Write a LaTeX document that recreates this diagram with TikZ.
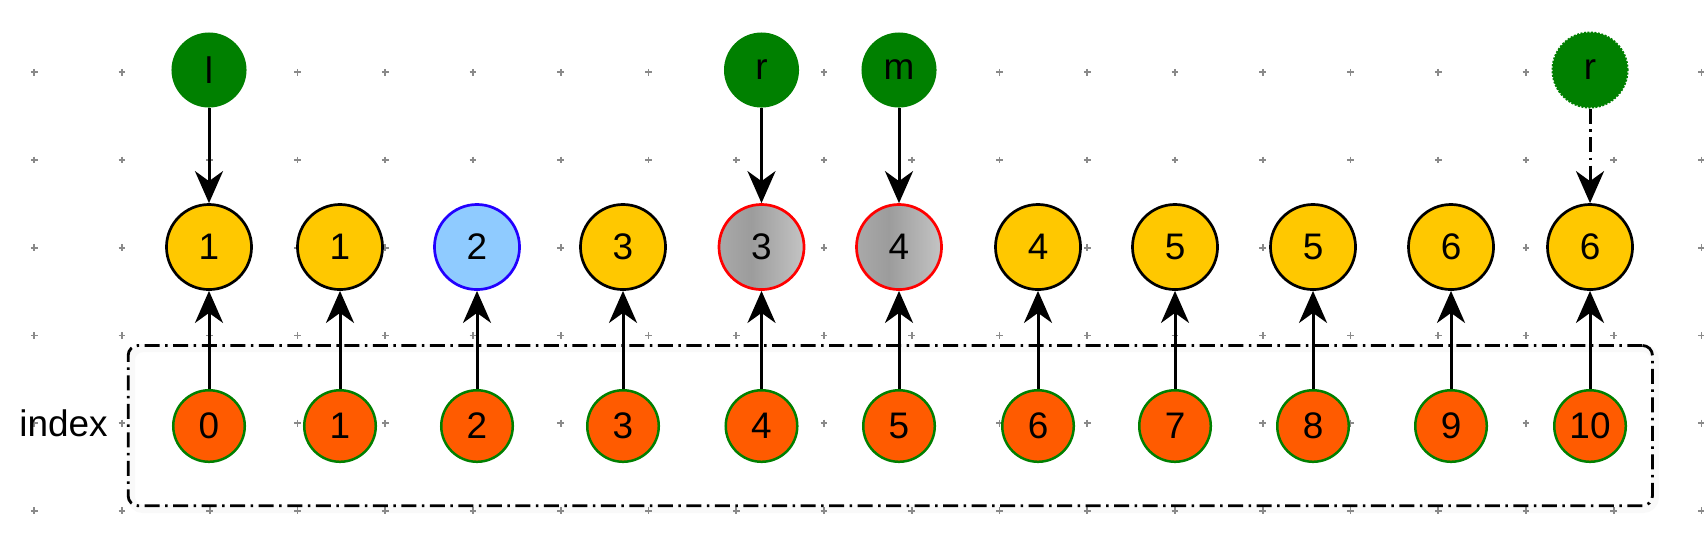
\documentclass[tikz,border=0pt]{standalone}
\usepackage{fontspec}
\setmainfont{Liberation Sans}
\usetikzlibrary{arrows.meta}
\definecolor{ygold}{HTML}{FFC800}
\definecolor{lblue}{HTML}{8FCBFF}
\definecolor{bblue}{HTML}{2200FF}
\definecolor{oorange}{HTML}{FF5B00}
\definecolor{dgreen}{HTML}{008000}
\definecolor{gA}{HTML}{A9A9A9}
\definecolor{gB}{HTML}{9C9C9C}
\definecolor{gC}{HTML}{C4C4C4}
\definecolor{gridgray}{HTML}{8A8A8A}
\definecolor{shadowgray}{HTML}{F6F6F6}
\pgfdeclarehorizontalshading{grayshade}{100bp}{color(0bp)=(gA); color(25bp)=(gA); color(44bp)=(gB); color(75bp)=(gC); color(100bp)=(gC)}
\tikzset{
  lbl/.style={font=\fontsize{10.5pt}{12pt}\selectfont, inner sep=0pt},
  valnode/.style={lbl, circle, minimum size=0.85cm, line width=0.027cm, draw=black, fill=ygold},
  bluenode/.style={valnode, draw=bblue, fill=lblue},
  graynode/.style={valnode, draw=red, shading=grayshade},
  idxnode/.style={lbl, circle, minimum size=0.715cm, line width=0.025cm, draw=dgreen, fill=oorange},
  ptrnode/.style={lbl, circle, minimum size=0.75cm, fill=dgreen},
  ghostptr/.style={ptrnode, draw=dgreen, line width=0.02cm, dash pattern=on 0.02cm off 0.015cm},
  arr/.style={line width=0.03cm, -{Stealth[length=0.32cm, width=0.28cm, inset=0.1cm]}},
  dashdot/.style={dash pattern=on 0.15cm off 0.055cm on 0.025cm off 0.055cm},
  gridmark/.style={draw=gridgray, line width=0.017cm}
}
\begin{document}
\begin{tikzpicture}[x=0.01cm, y=-0.01cm]
\useasboundingbox[fill=white] (0,0) rectangle (1704,556);
% faint halo of the index box
\draw[shadowgray, line width=0.08cm, rounded corners=0.12cm, opacity=0.6] (131,348) rectangle (1655,509);
% background grid of plus marks
\foreach \i in {0,...,19} {
  \foreach \j in {0,...,5} {
    \pgfmathsetmacro{\gx}{34.3+87.75*\i}
    \pgfmathsetmacro{\gy}{72.3+87.7*\j}
    \draw[gridmark] (\gx-3.4,\gy) -- (\gx+3.4,\gy) (\gx,\gy-3.4) -- (\gx,\gy+3.4);
  }
}
% index box
\node[draw=black, line width=0.028cm, dashdot, rounded corners=0.1cm,
      minimum width=15.234cm, minimum height=1.602cm, inner sep=0pt]
      (box) at (890.3,425.6) {};
\node[lbl, anchor=center] (indexlbl) at (63.5,423) {index};
% value nodes
\node[valnode]  (v0)  at (209,247)  {1};
\node[valnode]  (v1)  at (340,247)  {1};
\node[bluenode] (v2)  at (477,247)  {2};
\node[valnode]  (v3)  at (623,247)  {3};
\node[graynode] (v4)  at (761.5,247) {3};
\node[graynode] (v5)  at (899,247)  {4};
\node[valnode]  (v6)  at (1038,247) {4};
\node[valnode]  (v7)  at (1175,247) {5};
\node[valnode]  (v8)  at (1313,247) {5};
\node[valnode]  (v9)  at (1451,247) {6};
\node[valnode]  (v10) at (1590,247) {6};
% index nodes
\node[idxnode] (i0)  at (209,426)  {0};
\node[idxnode] (i1)  at (340,426)  {1};
\node[idxnode] (i2)  at (477,426)  {2};
\node[idxnode] (i3)  at (623,426)  {3};
\node[idxnode] (i4)  at (761.5,426) {4};
\node[idxnode] (i5)  at (899,426)  {5};
\node[idxnode] (i6)  at (1038,426) {6};
\node[idxnode] (i7)  at (1175,426) {7};
\node[idxnode] (i8)  at (1313,426) {8};
\node[idxnode] (i9)  at (1451,426) {9};
\node[idxnode] (i10) at (1590,426) {10};
% pointer nodes
\node[ptrnode]  (pl)  at (209,70)   {l};
\node[ptrnode]  (pr)  at (761.5,70) {r};
\node[ptrnode]  (pm)  at (899,70)   {m};
\node[ghostptr] (pr2) at (1590,70)  {r};
% connectors
\foreach \k in {0,...,10} { \draw[arr] (i\k) -- (v\k); }
\draw[arr] (pl) -- (v0);
\draw[arr] (pr) -- (v4);
\draw[arr] (pm) -- (v5);
\draw[arr, dashdot] (pr2) -- (v10);
\end{tikzpicture}
\end{document}
